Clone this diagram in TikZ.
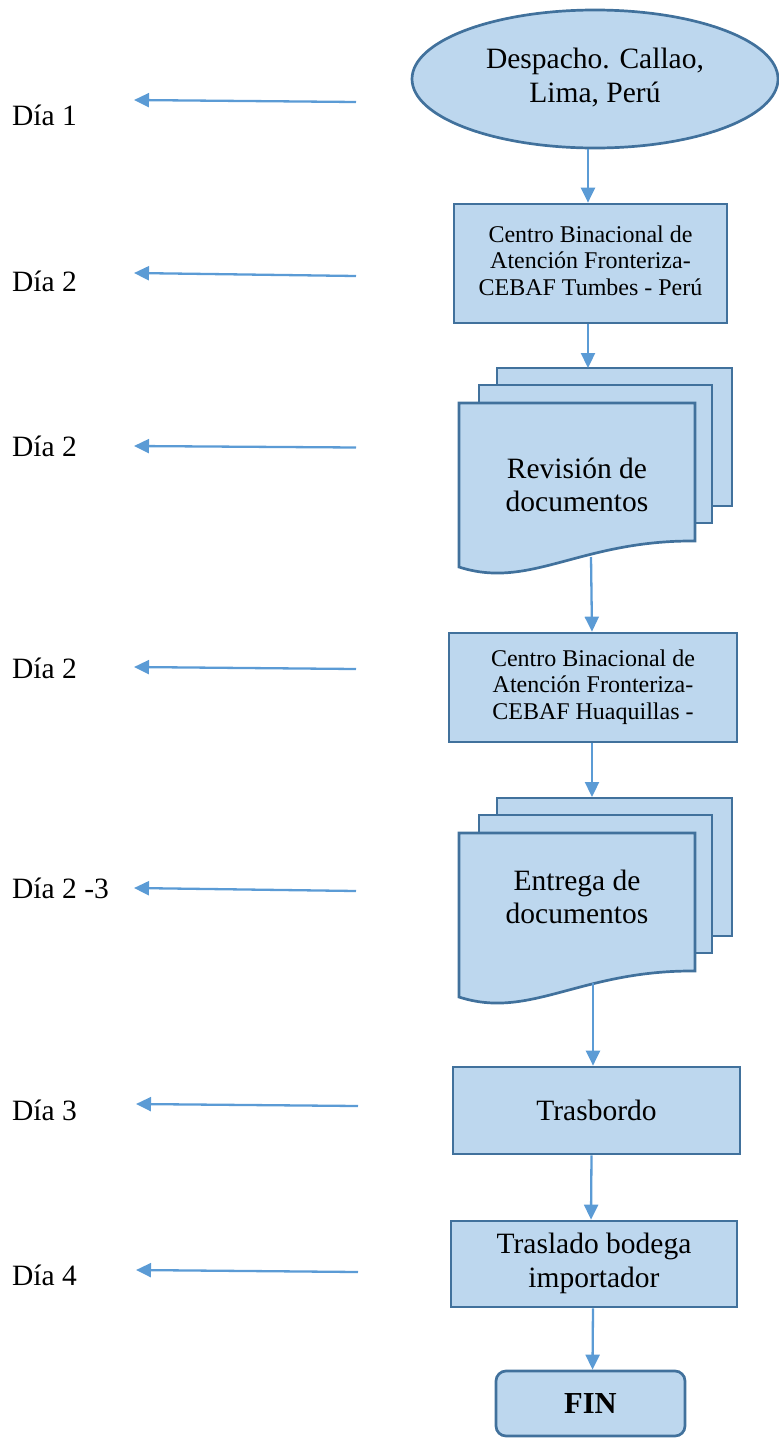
\documentclass[tikz,border=0pt]{standalone}
\usepackage{fontspec}
\setmainfont{Liberation Serif}
\usetikzlibrary{shapes.geometric,arrows.meta}
\definecolor{boxfill}{HTML}{BDD7EE}
\definecolor{boxline}{HTML}{41719C}
\definecolor{arrowc}{HTML}{5B9BD5}
\newcommand\fbig{\fontsize{29.5}{33.5}\selectfont}
\newcommand\fsmall{\fontsize{24}{26.8}\selectfont}
\newcommand\mylines[1]{\begin{tabular}[t]{@{}c@{}}#1\end{tabular}}
\tikzset{
  shapebox/.style={draw=boxline, fill=boxfill, line width=2.7pt, inner sep=0pt, font=\fbig},
  proc/.style={shapebox, rectangle},
  docpage/.style={draw=boxline, fill=boxfill, line width=2.7pt},
  txt/.style={inner sep=0pt, font=\fbig},
  lab/.style={inner sep=0pt, anchor=base west, font=\fbig},
  flow/.style={draw=arrowc, line width=2.3pt, -{Triangle[length=15pt,width=14pt]}},
  docstack/.pic={
    \path[docpage] (38,-35) rectangle (273,103);
    \path[docpage] (20,-18) rectangle (253,120);
    \path[docpage] (0,0) -- (236,0) -- (236,138)
       .. controls (121,137) and (71,187) .. (0,164) -- cycle;
  }
}
\begin{document}
\begin{tikzpicture}[x=1pt,y=-1pt,line join=miter]
\useasboundingbox (0,0) rectangle (779,1438);

% main flow
\node[shapebox, ellipse, minimum width=366pt, minimum height=138pt] (start) at (595,79)
  {\mylines{Despacho. Callao,\\Lima, Perú}};
\node[proc, minimum width=273pt, minimum height=119pt, font=\fsmall] (cebafT) at (590.5,263.5)
  {\mylines{Centro Binacional de\\Atención Fronteriza-\\CEBAF Tumbes - Perú}};

\pic at (459,403) {docstack};
\node[txt, anchor=base] (rev) at (577,478) {\mylines{Revisión de\\documentos}};
\coordinate (revin) at (588,368);
\coordinate (revout) at (591,557);

\node[proc, minimum width=288pt, minimum height=109pt, font=\fsmall] (cebafH) at (593,687.5)
  {\mylines{Centro Binacional de\\Atención Fronteriza-\\CEBAF Huaquillas -}};

\pic at (459,833) {docstack};
\node[txt, anchor=base] (ent) at (577,890) {\mylines{Entrega de\\documentos}};
\coordinate (entin) at (592,797);
\coordinate (entout) at (593,983);

\node[proc, minimum width=287pt, minimum height=87pt] (trasb) at (596.5,1110.5) {Trasbordo};
\node[proc, minimum width=286pt, minimum height=86pt] (trasl) at (594,1264)
  {\mylines{Traslado bodega\\importador}};
\node[proc, rounded corners=10pt, minimum width=189pt, minimum height=65pt,
      font=\fontsize{30.5}{34}\selectfont\bfseries] (fin) at (590.5,1403.5) {FIN};

% vertical connectors
\draw[flow] ([xshift=-7pt]start.south) -- ([xshift=-2.5pt]cebafT.north);
\draw[flow] ([xshift=-2.5pt]cebafT.south) -- (revin);
\draw[flow] (revout) -- ([xshift=-1pt]cebafH.north);
\draw[flow] ([xshift=-1pt]cebafH.south) -- (entin);
\draw[flow] (entout) -- ([xshift=-3.5pt]trasb.north);
\draw[flow] ([xshift=-5pt]trasb.south) -- ([xshift=-3pt]trasl.north);
\draw[flow] ([xshift=-1pt]trasl.south) -- ([xshift=2pt]fin.north);

% day labels
\node[lab] (l1) at (12,125) {Día 1};
\node[lab] (l2) at (12,291) {Día 2};
\node[lab] (l3) at (12,456) {Día 2};
\node[lab] (l4) at (12,678) {Día 2};
\node[lab] (l5) at (12,898) {Día 2 -3};
\node[lab] (l6) at (12,1120) {Día 3};
\node[lab] (l7) at (12,1285) {Día 4};

% day arrows
\coordinate (t1) at (356,102);  \coordinate (h1) at (134,100);
\coordinate (t2) at (356,276);  \coordinate (h2) at (134,273);
\coordinate (t3) at (356,447.5);\coordinate (h3) at (134,446);
\coordinate (t4) at (356,669);  \coordinate (h4) at (134,667);
\coordinate (t5) at (356,891);  \coordinate (h5) at (134,888);
\coordinate (t6) at (358,1106); \coordinate (h6) at (136,1104);
\coordinate (t7) at (358,1272); \coordinate (h7) at (136,1270);
\foreach \i in {1,...,7} { \draw[flow] (t\i) -- (h\i); }
\end{tikzpicture}
\end{document}
